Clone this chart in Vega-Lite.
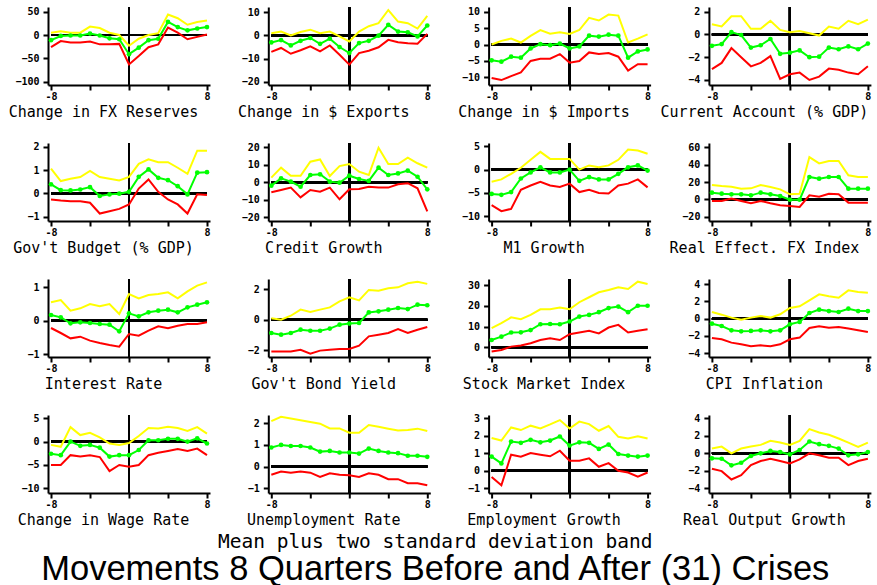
{
"$schema": "https://vega.github.io/schema/vega-lite/v6.json",
"background": "white",
"padding": {"left": 8, "top": 6, "right": 0, "bottom": 0},
"columns": 4,
"spacing": {"row": 58, "column": 58.3},
"bounds": "flush",
"title": {"text": "Mean plus two standard deviation band", "subtitle": "Movements 8 Quarters Before and After (31) Crises", "orient": "bottom", "anchor": "middle", "font": "DejaVu Sans Mono", "fontSize": 19.5, "fontWeight": "normal", "color": "#000", "subtitleFont": "Liberation Sans", "subtitleFontSize": 34.5, "subtitleColor": "#000", "subtitlePadding": 0, "offset": 5, "dx": -5},
"datasets": {
"p1": [{"q":-8,"hi":5,"m":-11,"lo":-26},{"q":-7,"hi":8,"m":-2,"lo":-13},{"q":-6,"hi":5,"m":-1,"lo":-16},{"q":-5,"hi":5,"m":-1,"lo":-16},{"q":-4,"hi":18,"m":3,"lo":-14},{"q":-3,"hi":15,"m":-1,"lo":-20},{"q":-2,"hi":5,"m":-7,"lo":-20},{"q":-1,"hi":0,"m":-9,"lo":-19},{"q":0,"hi":-23,"m":-41,"lo":-63},{"q":1,"hi":-8,"m":-27,"lo":-45},{"q":2,"hi":0,"m":-11,"lo":-26},{"q":3,"hi":4,"m":-8,"lo":-20},{"q":4,"hi":44,"m":28,"lo":16},{"q":5,"hi":36,"m":17,"lo":5},{"q":6,"hi":22,"m":10,"lo":-9},{"q":7,"hi":28,"m":14,"lo":-4},{"q":8,"hi":31,"m":17,"lo":1}],
"p2": [{"q":-8,"hi":1,"m":-3,"lo":-7.1},{"q":-7,"hi":1.7,"m":-2,"lo":-5.4},{"q":-6,"hi":0,"m":-4.3,"lo":-7.9},{"q":-5,"hi":1.5,"m":-2.3,"lo":-6.4},{"q":-4,"hi":2.5,"m":-1.1,"lo":-4.7},{"q":-3,"hi":1,"m":-3.6,"lo":-6.9},{"q":-2,"hi":1.7,"m":-1.4,"lo":-4.3},{"q":-1,"hi":-0.4,"m":-5,"lo":-8.3},{"q":0,"hi":-2.6,"m":-7.6,"lo":-12.6},{"q":1,"hi":1.7,"m":-3.3,"lo":-7.6},{"q":2,"hi":4,"m":-2.3,"lo":-6.6},{"q":3,"hi":5.3,"m":-0.1,"lo":-5.1},{"q":4,"hi":11,"m":4.6,"lo":-1.9},{"q":5,"hi":6,"m":1.7,"lo":-2.9},{"q":6,"hi":5.3,"m":1.4,"lo":-3.4},{"q":7,"hi":3,"m":-0.4,"lo":-3.6},{"q":8,"hi":8.5,"m":4.3,"lo":0.7}],
"p3": [{"q":-8,"hi":0,"m":-4.8,"lo":-10.2},{"q":-7,"hi":1.1,"m":-5.2,"lo":-10.8},{"q":-6,"hi":1.8,"m":-3.7,"lo":-9.6},{"q":-5,"hi":0.6,"m":-4,"lo":-8.5},{"q":-4,"hi":2.6,"m":-1.2,"lo":-5},{"q":-3,"hi":4.4,"m":0.1,"lo":-4.3},{"q":-2,"hi":3.3,"m":-0.2,"lo":-4.3},{"q":-1,"hi":3.7,"m":0.3,"lo":-2.9},{"q":0,"hi":3.2,"m":-1.2,"lo":-5.5},{"q":1,"hi":4.4,"m":-0.6,"lo":-5},{"q":2,"hi":8.1,"m":2.7,"lo":-2.4},{"q":3,"hi":7.3,"m":2.4,"lo":-2.9},{"q":4,"hi":9.1,"m":3,"lo":-2.6},{"q":5,"hi":8.8,"m":2.7,"lo":-3.7},{"q":6,"hi":0.6,"m":-4,"lo":-7.9},{"q":7,"hi":1.8,"m":-2.1,"lo":-6},{"q":8,"hi":3.1,"m":-1.5,"lo":-6}],
"p4": [{"q":-8,"hi":0.9,"m":-1,"lo":-3.05},{"q":-7,"hi":0.7,"m":-0.85,"lo":-2.5},{"q":-6,"hi":1.6,"m":0.2,"lo":-1.2},{"q":-5,"hi":1.6,"m":-0.05,"lo":-2},{"q":-4,"hi":0.5,"m":-1.15,"lo":-2.8},{"q":-3,"hi":0.5,"m":-0.95,"lo":-2.5},{"q":-2,"hi":1.2,"m":-0.4,"lo":-1.9},{"q":-1,"hi":0.4,"m":-1.7,"lo":-3.9},{"q":0,"hi":0.2,"m":-1.6,"lo":-3.5},{"q":1,"hi":0.3,"m":-1.4,"lo":-3.35},{"q":2,"hi":0.1,"m":-2,"lo":-4},{"q":3,"hi":-0.1,"m":-1.95,"lo":-3.7},{"q":4,"hi":0.7,"m":-1.15,"lo":-3},{"q":5,"hi":0.5,"m":-1.3,"lo":-3.1},{"q":6,"hi":1.2,"m":-1.05,"lo":-3.35},{"q":7,"hi":0.9,"m":-1.3,"lo":-3.5},{"q":8,"hi":1.3,"m":-0.8,"lo":-2.8}],
"p5": [{"q":-8,"hi":1.06,"m":0.39,"lo":-0.26},{"q":-7,"hi":0.53,"m":0.14,"lo":-0.3},{"q":-6,"hi":0.63,"m":0.13,"lo":-0.33},{"q":-5,"hi":0.7,"m":0.17,"lo":-0.33},{"q":-4,"hi":0.96,"m":0.27,"lo":-0.4},{"q":-3,"hi":0.7,"m":-0.11,"lo":-0.86},{"q":-2,"hi":0.63,"m":-0.04,"lo":-0.76},{"q":-1,"hi":0.56,"m":-0.01,"lo":-0.66},{"q":0,"hi":0.71,"m":0.07,"lo":-0.47},{"q":1,"hi":1.27,"m":0.71,"lo":0.21},{"q":2,"hi":1.46,"m":1.03,"lo":0.6},{"q":3,"hi":1.34,"m":0.67,"lo":0.07},{"q":4,"hi":1.34,"m":0.57,"lo":-0.26},{"q":5,"hi":1.1,"m":0.31,"lo":-0.47},{"q":6,"hi":0.84,"m":-0.04,"lo":-0.86},{"q":7,"hi":1.83,"m":0.89,"lo":-0.04},{"q":8,"hi":1.83,"m":0.91,"lo":-0.07}],
"p6": [{"q":-8,"hi":2.7,"m":-1.9,"lo":-5.7},{"q":-7,"hi":8.4,"m":2.3,"lo":-4.4},{"q":-6,"hi":3.8,"m":0.4,"lo":-3},{"q":-5,"hi":3.8,"m":-2.5,"lo":-8.6},{"q":-4,"hi":11.8,"m":4.2,"lo":-4.4},{"q":-3,"hi":13.1,"m":4.6,"lo":-5.3},{"q":-2,"hi":3.6,"m":0.4,"lo":-3},{"q":-1,"hi":9.3,"m":-0.2,"lo":-9.7},{"q":0,"hi":10.5,"m":3.8,"lo":-4},{"q":1,"hi":6.1,"m":1.9,"lo":-3.8},{"q":2,"hi":4.2,"m":0.8,"lo":-2.5},{"q":3,"hi":19.8,"m":8.4,"lo":-3},{"q":4,"hi":10.5,"m":4.2,"lo":-3},{"q":5,"hi":10.5,"m":5.1,"lo":-1.1},{"q":6,"hi":14.1,"m":6.7,"lo":-0.5},{"q":7,"hi":10.9,"m":3.2,"lo":-3.4},{"q":8,"hi":8.4,"m":-4,"lo":-16.6}],
"p7": [{"q":-8,"hi":-2.6,"m":-5.2,"lo":-7.6},{"q":-7,"hi":-2.1,"m":-5.4,"lo":-8.9},{"q":-6,"hi":-0.9,"m":-4.8,"lo":-8.4},{"q":-5,"hi":0.4,"m":-1.9,"lo":-4.3},{"q":-4,"hi":2.1,"m":-0.6,"lo":-3.4},{"q":-3,"hi":3.8,"m":0.5,"lo":-2.6},{"q":-2,"hi":2.3,"m":-0.6,"lo":-3.4},{"q":-1,"hi":2.3,"m":-0.6,"lo":-3.7},{"q":0,"hi":2.3,"m":0,"lo":-3},{"q":1,"hi":0,"m":-2.4,"lo":-4.8},{"q":2,"hi":0.9,"m":-1.6,"lo":-4.3},{"q":3,"hi":0.5,"m":-2.1,"lo":-5},{"q":4,"hi":0.9,"m":-2.1,"lo":-5.1},{"q":5,"hi":2.1,"m":-0.9,"lo":-3.4},{"q":6,"hi":4.3,"m":0.5,"lo":-3},{"q":7,"hi":4.1,"m":0.9,"lo":-2.1},{"q":8,"hi":3.4,"m":-0.2,"lo":-3.8}],
"p8": [{"q":-8,"hi":16.5,"m":7.7,"lo":-1.9},{"q":-7,"hi":15.4,"m":6.5,"lo":-1.9},{"q":-6,"hi":14.6,"m":5.8,"lo":0.8},{"q":-5,"hi":12.3,"m":5.8,"lo":-1.9},{"q":-4,"hi":12.7,"m":4.6,"lo":-4.6},{"q":-3,"hi":16.5,"m":7.7,"lo":-1.9},{"q":-2,"hi":14.2,"m":5.8,"lo":-4.6},{"q":-1,"hi":11.5,"m":3.8,"lo":-6.9},{"q":0,"hi":5.8,"m":-0.4,"lo":-7.7},{"q":1,"hi":6.5,"m":-0.4,"lo":-8.8},{"q":2,"hi":48.8,"m":25.8,"lo":4.6},{"q":3,"hi":41.5,"m":23.8,"lo":3},{"q":4,"hi":44.2,"m":25.8,"lo":6.5},{"q":5,"hi":44.2,"m":25.8,"lo":5.8},{"q":6,"hi":27.7,"m":12.3,"lo":-3.8},{"q":7,"hi":25.8,"m":12.3,"lo":-3.8},{"q":8,"hi":25.8,"m":12.3,"lo":-3.8}],
"p9": [{"q":-8,"hi":0.55,"m":0.17,"lo":-0.22},{"q":-7,"hi":0.62,"m":0.1,"lo":-0.37},{"q":-6,"hi":0.3,"m":-0.08,"lo":-0.53},{"q":-5,"hi":0.37,"m":-0.05,"lo":-0.48},{"q":-4,"hi":0.5,"m":-0.07,"lo":-0.6},{"q":-3,"hi":0.43,"m":-0.1,"lo":-0.67},{"q":-2,"hi":0.5,"m":-0.12,"lo":-0.73},{"q":-1,"hi":0.2,"m":-0.32,"lo":-0.78},{"q":0,"hi":0.8,"m":0.22,"lo":-0.4},{"q":1,"hi":0.67,"m":0.13,"lo":-0.45},{"q":2,"hi":0.77,"m":0.25,"lo":-0.3},{"q":3,"hi":0.8,"m":0.3,"lo":-0.17},{"q":4,"hi":0.85,"m":0.33,"lo":-0.23},{"q":5,"hi":0.67,"m":0.25,"lo":-0.15},{"q":6,"hi":0.88,"m":0.4,"lo":-0.1},{"q":7,"hi":1.05,"m":0.48,"lo":-0.1},{"q":8,"hi":1.15,"m":0.55,"lo":-0.05}],
"p10": [{"q":-8,"hi":0.1,"m":-0.88,"lo":-2.09},{"q":-7,"hi":0,"m":-0.99,"lo":-2.09},{"q":-6,"hi":0.26,"m":-0.88,"lo":-2.09},{"q":-5,"hi":0.66,"m":-0.66,"lo":-1.98},{"q":-4,"hi":0.5,"m":-0.73,"lo":-2.24},{"q":-3,"hi":0.66,"m":-0.73,"lo":-2.04},{"q":-2,"hi":0.81,"m":-0.59,"lo":-1.98},{"q":-1,"hi":1.21,"m":-0.33,"lo":-1.93},{"q":0,"hi":1.47,"m":-0.26,"lo":-1.93},{"q":1,"hi":1.27,"m":-0.22,"lo":-1.71},{"q":2,"hi":1.96,"m":0.48,"lo":-1.1},{"q":3,"hi":1.91,"m":0.55,"lo":-0.99},{"q":4,"hi":2.07,"m":0.66,"lo":-0.88},{"q":5,"hi":2.13,"m":0.77,"lo":-0.62},{"q":6,"hi":2.4,"m":0.7,"lo":-0.88},{"q":7,"hi":2.5,"m":0.99,"lo":-0.66},{"q":8,"hi":2.36,"m":0.95,"lo":-0.48}],
"p11": [{"q":-8,"hi":9.2,"m":3.5,"lo":-2.1},{"q":-7,"hi":11.6,"m":5.1,"lo":-1.3},{"q":-6,"hi":14.4,"m":7.1,"lo":0.3},{"q":-5,"hi":13.5,"m":7.2,"lo":0.8},{"q":-4,"hi":15.6,"m":8.3,"lo":1.9},{"q":-3,"hi":18.3,"m":11.1,"lo":3.5},{"q":-2,"hi":18.3,"m":11.2,"lo":4.3},{"q":-1,"hi":19.1,"m":11.1,"lo":3.5},{"q":0,"hi":18.3,"m":12.4,"lo":6.3},{"q":1,"hi":21.7,"m":14.8,"lo":7.1},{"q":2,"hi":24.1,"m":15.6,"lo":7.9},{"q":3,"hi":26.5,"m":16.9,"lo":6.7},{"q":4,"hi":27.6,"m":18.9,"lo":9.5},{"q":5,"hi":28.9,"m":19.6,"lo":10.8},{"q":6,"hi":28.1,"m":16.9,"lo":7.1},{"q":7,"hi":31.6,"m":20,"lo":8},{"q":8,"hi":30.5,"m":20,"lo":8.7}],
"p12": [{"q":-8,"hi":0.77,"m":-0.58,"lo":-2.23},{"q":-7,"hi":0.46,"m":-0.85,"lo":-2.38},{"q":-6,"hi":0.12,"m":-1.35,"lo":-2.77},{"q":-5,"hi":-0.12,"m":-1.46,"lo":-2.96},{"q":-4,"hi":0.12,"m":-1.42,"lo":-3.19},{"q":-3,"hi":0.31,"m":-1.35,"lo":-3.08},{"q":-2,"hi":0.12,"m":-1.46,"lo":-3.19},{"q":-1,"hi":0.5,"m":-1.35,"lo":-2.96},{"q":0,"hi":1.23,"m":-0.65,"lo":-2.38},{"q":1,"hi":1.42,"m":-0.38,"lo":-2.19},{"q":2,"hi":2.12,"m":0.65,"lo":-1.08},{"q":3,"hi":2.81,"m":1.04,"lo":-0.88},{"q":4,"hi":2.58,"m":0.88,"lo":-1.04},{"q":5,"hi":2.42,"m":0.77,"lo":-0.96},{"q":6,"hi":3.27,"m":1.15,"lo":-1.15},{"q":7,"hi":3.08,"m":0.88,"lo":-1.35},{"q":8,"hi":3,"m":0.88,"lo":-1.54}],
"p13": [{"q":-8,"hi":-0.7,"m":-2.6,"lo":-5},{"q":-7,"hi":-1.1,"m":-2.9,"lo":-5},{"q":-6,"hi":3.1,"m":0,"lo":-2.9},{"q":-5,"hi":1.4,"m":-0.9,"lo":-3.2},{"q":-4,"hi":1.9,"m":-0.7,"lo":-2.9},{"q":-3,"hi":0.9,"m":-1.3,"lo":-3.3},{"q":-2,"hi":-0.4,"m":-3.2,"lo":-6.3},{"q":-1,"hi":-0.7,"m":-2.9,"lo":-5},{"q":0,"hi":-0.3,"m":-2.9,"lo":-5.4},{"q":1,"hi":1.2,"m":-1.8,"lo":-5},{"q":2,"hi":2.9,"m":0.3,"lo":-2.9},{"q":3,"hi":2.8,"m":0.3,"lo":-2.4},{"q":4,"hi":3.2,"m":0.6,"lo":-2},{"q":5,"hi":2.9,"m":0.6,"lo":-1.6},{"q":6,"hi":2.3,"m":0,"lo":-2},{"q":7,"hi":3.1,"m":0.7,"lo":-1.5},{"q":8,"hi":1.7,"m":-0.4,"lo":-2.9}],
"p14": [{"q":-8,"hi":2.1,"m":0.88,"lo":-0.38},{"q":-7,"hi":2.3,"m":1.0,"lo":-0.23},{"q":-6,"hi":2.22,"m":0.95,"lo":-0.28},{"q":-5,"hi":2.14,"m":0.95,"lo":-0.23},{"q":-4,"hi":2.06,"m":0.88,"lo":-0.28},{"q":-3,"hi":1.98,"m":0.69,"lo":-0.48},{"q":-2,"hi":1.76,"m":0.72,"lo":-0.31},{"q":-1,"hi":1.76,"m":0.65,"lo":-0.38},{"q":0,"hi":1.56,"m":0.65,"lo":-0.4},{"q":1,"hi":1.56,"m":0.6,"lo":-0.48},{"q":2,"hi":1.92,"m":0.83,"lo":-0.31},{"q":3,"hi":1.84,"m":0.72,"lo":-0.38},{"q":4,"hi":1.75,"m":0.65,"lo":-0.58},{"q":5,"hi":1.67,"m":0.62,"lo":-0.58},{"q":6,"hi":1.69,"m":0.5,"lo":-0.77},{"q":7,"hi":1.75,"m":0.5,"lo":-0.77},{"q":8,"hi":1.64,"m":0.45,"lo":-0.86}],
"p15": [{"q":-8,"hi":1.88,"m":0.81,"lo":-0.35},{"q":-7,"hi":1.73,"m":0.42,"lo":-0.83},{"q":-6,"hi":2.48,"m":1.67,"lo":0.92},{"q":-5,"hi":2.33,"m":1.6,"lo":0.81},{"q":-4,"hi":2.58,"m":1.77,"lo":1.02},{"q":-3,"hi":2.42,"m":1.63,"lo":0.92},{"q":-2,"hi":2.65,"m":1.73,"lo":0.83},{"q":-1,"hi":2.9,"m":1.96,"lo":1.15},{"q":0,"hi":2.42,"m":1.44,"lo":0.58},{"q":1,"hi":2.81,"m":1.63,"lo":0.58},{"q":2,"hi":2.67,"m":1.6,"lo":0.71},{"q":3,"hi":2.29,"m":1.25,"lo":0.23},{"q":4,"hi":2.56,"m":1.5,"lo":0.44},{"q":5,"hi":1.94,"m":0.96,"lo":0},{"q":6,"hi":1.85,"m":0.87,"lo":-0.1},{"q":7,"hi":1.98,"m":0.81,"lo":-0.33},{"q":8,"hi":1.85,"m":0.87,"lo":-0.1}],
"p16": [{"q":-8,"hi":0.54,"m":-0.58,"lo":-1.77},{"q":-7,"hi":0.77,"m":-0.62,"lo":-2.04},{"q":-6,"hi":0,"m":-1.38,"lo":-3},{"q":-5,"hi":0.54,"m":-1.08,"lo":-2.5},{"q":-4,"hi":0.77,"m":-0.31,"lo":-1.35},{"q":-3,"hi":0.96,"m":0,"lo":-0.88},{"q":-2,"hi":1.42,"m":0.27,"lo":-0.62},{"q":-1,"hi":1.23,"m":0.15,"lo":-0.88},{"q":0,"hi":0.96,"m":-0.12,"lo":-1.15},{"q":1,"hi":1.42,"m":0.38,"lo":-0.69},{"q":2,"hi":2.77,"m":1.35,"lo":0},{"q":3,"hi":2.38,"m":1.04,"lo":-0.23},{"q":4,"hi":2.12,"m":0.85,"lo":-0.5},{"q":5,"hi":1.69,"m":0.54,"lo":-0.5},{"q":6,"hi":1.23,"m":-0.23,"lo":-1.35},{"q":7,"hi":0.73,"m":-0.12,"lo":-0.88},{"q":8,"hi":1.23,"m":0.15,"lo":-0.62}]
},
"concat": [
{"data":{"name":"p1"},"title":"Change in FX Reserves","width":162,"height":78,"encoding":{"x":{"field":"q","type":"quantitative","title":null,"scale":{"domain":[-8.31,8.31],"nice":false},"axis":{"values":[-8,-4,0,4,8],"labelExpr":"datum.value == -8 ? '-8' : datum.value == 8 ? '8' : ''"}}},"layer":[{"mark":{"type":"rule","color":"#000","strokeWidth":2},"encoding":{"x":{"datum":0}}},{"mark":{"type":"rule","color":"#000","strokeWidth":2},"encoding":{"x":{"datum":-8},"x2":{"datum":8},"y":{"datum":0}}},{"mark":{"type":"line","color":"#ffff00","strokeWidth":2},"encoding":{"y":{"field":"hi","type":"quantitative","title":null,"scale":{"domain":[-107,60],"nice":false,"zero":false},"axis":{"values":[50,0,-50,-100],"format":"d"}}}},{"mark":{"type":"line","color":"#00ff00","strokeWidth":2,"point":{"filled":true,"size":22,"color":"#00ff00"}},"encoding":{"y":{"field":"m","type":"quantitative","title":null}}},{"mark":{"type":"line","color":"#ff0000","strokeWidth":2},"encoding":{"y":{"field":"lo","type":"quantitative","title":null}}}]},
{"data":{"name":"p2"},"title":"Change in $ Exports","width":162,"height":78,"encoding":{"x":{"field":"q","type":"quantitative","title":null,"scale":{"domain":[-8.31,8.31],"nice":false},"axis":{"values":[-8,-4,0,4,8],"labelExpr":"datum.value == -8 ? '-8' : datum.value == 8 ? '8' : ''"}}},"layer":[{"mark":{"type":"rule","color":"#000","strokeWidth":2},"encoding":{"x":{"datum":0}}},{"mark":{"type":"rule","color":"#000","strokeWidth":2},"encoding":{"x":{"datum":-8},"x2":{"datum":8},"y":{"datum":0}}},{"mark":{"type":"line","color":"#ffff00","strokeWidth":2},"encoding":{"y":{"field":"hi","type":"quantitative","title":null,"scale":{"domain":[-21.4,12.3],"nice":false,"zero":false},"axis":{"values":[10,0,-10,-20],"format":"d"}}}},{"mark":{"type":"line","color":"#00ff00","strokeWidth":2,"point":{"filled":true,"size":22,"color":"#00ff00"}},"encoding":{"y":{"field":"m","type":"quantitative","title":null}}},{"mark":{"type":"line","color":"#ff0000","strokeWidth":2},"encoding":{"y":{"field":"lo","type":"quantitative","title":null}}}]},
{"data":{"name":"p3"},"title":"Change in $ Imports","width":162,"height":78,"encoding":{"x":{"field":"q","type":"quantitative","title":null,"scale":{"domain":[-8.31,8.31],"nice":false},"axis":{"values":[-8,-4,0,4,8],"labelExpr":"datum.value == -8 ? '-8' : datum.value == 8 ? '8' : ''"}}},"layer":[{"mark":{"type":"rule","color":"#000","strokeWidth":2},"encoding":{"x":{"datum":0}}},{"mark":{"type":"rule","color":"#000","strokeWidth":2},"encoding":{"x":{"datum":-8},"x2":{"datum":8},"y":{"datum":0}}},{"mark":{"type":"line","color":"#ffff00","strokeWidth":2},"encoding":{"y":{"field":"hi","type":"quantitative","title":null,"scale":{"domain":[-12.3,11.4],"nice":false,"zero":false},"axis":{"values":[10,5,0,-5,-10],"format":"d"}}}},{"mark":{"type":"line","color":"#00ff00","strokeWidth":2,"point":{"filled":true,"size":22,"color":"#00ff00"}},"encoding":{"y":{"field":"m","type":"quantitative","title":null}}},{"mark":{"type":"line","color":"#ff0000","strokeWidth":2},"encoding":{"y":{"field":"lo","type":"quantitative","title":null}}}]},
{"data":{"name":"p4"},"title":"Current Account (% GDP)","width":162,"height":78,"encoding":{"x":{"field":"q","type":"quantitative","title":null,"scale":{"domain":[-8.31,8.31],"nice":false},"axis":{"values":[-8,-4,0,4,8],"labelExpr":"datum.value == -8 ? '-8' : datum.value == 8 ? '8' : ''"}}},"layer":[{"mark":{"type":"rule","color":"#000","strokeWidth":2},"encoding":{"x":{"datum":0}}},{"mark":{"type":"rule","color":"#000","strokeWidth":2},"encoding":{"x":{"datum":-8},"x2":{"datum":8},"y":{"datum":0}}},{"mark":{"type":"line","color":"#ffff00","strokeWidth":2},"encoding":{"y":{"field":"hi","type":"quantitative","title":null,"scale":{"domain":[-4.44,2.41],"nice":false,"zero":false},"axis":{"values":[2,0,-2,-4],"format":"d"}}}},{"mark":{"type":"line","color":"#00ff00","strokeWidth":2,"point":{"filled":true,"size":22,"color":"#00ff00"}},"encoding":{"y":{"field":"m","type":"quantitative","title":null}}},{"mark":{"type":"line","color":"#ff0000","strokeWidth":2},"encoding":{"y":{"field":"lo","type":"quantitative","title":null}}}]},
{"data":{"name":"p5"},"title":"Gov't Budget (% GDP)","width":162,"height":78,"encoding":{"x":{"field":"q","type":"quantitative","title":null,"scale":{"domain":[-8.31,8.31],"nice":false},"axis":{"values":[-8,-4,0,4,8],"labelExpr":"datum.value == -8 ? '-8' : datum.value == 8 ? '8' : ''"}}},"layer":[{"mark":{"type":"rule","color":"#000","strokeWidth":2},"encoding":{"x":{"datum":0}}},{"mark":{"type":"rule","color":"#000","strokeWidth":2},"encoding":{"x":{"datum":-8},"x2":{"datum":8},"y":{"datum":0}}},{"mark":{"type":"line","color":"#ffff00","strokeWidth":2},"encoding":{"y":{"field":"hi","type":"quantitative","title":null,"scale":{"domain":[-1.18,2.16],"nice":false,"zero":false},"axis":{"values":[2,1,0,-1],"format":"d"}}}},{"mark":{"type":"line","color":"#00ff00","strokeWidth":2,"point":{"filled":true,"size":22,"color":"#00ff00"}},"encoding":{"y":{"field":"m","type":"quantitative","title":null}}},{"mark":{"type":"line","color":"#ff0000","strokeWidth":2},"encoding":{"y":{"field":"lo","type":"quantitative","title":null}}}]},
{"data":{"name":"p6"},"title":"Credit Growth","width":162,"height":78,"encoding":{"x":{"field":"q","type":"quantitative","title":null,"scale":{"domain":[-8.31,8.31],"nice":false},"axis":{"values":[-8,-4,0,4,8],"labelExpr":"datum.value == -8 ? '-8' : datum.value == 8 ? '8' : ''"}}},"layer":[{"mark":{"type":"rule","color":"#000","strokeWidth":2},"encoding":{"x":{"datum":0}}},{"mark":{"type":"rule","color":"#000","strokeWidth":2},"encoding":{"x":{"datum":-8},"x2":{"datum":8},"y":{"datum":0}}},{"mark":{"type":"line","color":"#ffff00","strokeWidth":2},"encoding":{"y":{"field":"hi","type":"quantitative","title":null,"scale":{"domain":[-22.1,22.5],"nice":false,"zero":false},"axis":{"values":[20,10,0,-10,-20],"format":"d"}}}},{"mark":{"type":"line","color":"#00ff00","strokeWidth":2,"point":{"filled":true,"size":22,"color":"#00ff00"}},"encoding":{"y":{"field":"m","type":"quantitative","title":null}}},{"mark":{"type":"line","color":"#ff0000","strokeWidth":2},"encoding":{"y":{"field":"lo","type":"quantitative","title":null}}}]},
{"data":{"name":"p7"},"title":"M1 Growth","width":162,"height":78,"encoding":{"x":{"field":"q","type":"quantitative","title":null,"scale":{"domain":[-8.31,8.31],"nice":false},"axis":{"values":[-8,-4,0,4,8],"labelExpr":"datum.value == -8 ? '-8' : datum.value == 8 ? '8' : ''"}}},"layer":[{"mark":{"type":"rule","color":"#000","strokeWidth":2},"encoding":{"x":{"datum":0}}},{"mark":{"type":"rule","color":"#000","strokeWidth":2},"encoding":{"x":{"datum":-8},"x2":{"datum":8},"y":{"datum":0}}},{"mark":{"type":"line","color":"#ffff00","strokeWidth":2},"encoding":{"y":{"field":"hi","type":"quantitative","title":null,"scale":{"domain":[-11,5.7],"nice":false,"zero":false},"axis":{"values":[5,0,-5,-10],"format":"d"}}}},{"mark":{"type":"line","color":"#00ff00","strokeWidth":2,"point":{"filled":true,"size":22,"color":"#00ff00"}},"encoding":{"y":{"field":"m","type":"quantitative","title":null}}},{"mark":{"type":"line","color":"#ff0000","strokeWidth":2},"encoding":{"y":{"field":"lo","type":"quantitative","title":null}}}]},
{"data":{"name":"p8"},"title":"Real Effect. FX Index","width":162,"height":78,"encoding":{"x":{"field":"q","type":"quantitative","title":null,"scale":{"domain":[-8.31,8.31],"nice":false},"axis":{"values":[-8,-4,0,4,8],"labelExpr":"datum.value == -8 ? '-8' : datum.value == 8 ? '8' : ''"}}},"layer":[{"mark":{"type":"rule","color":"#000","strokeWidth":2},"encoding":{"x":{"datum":0}}},{"mark":{"type":"rule","color":"#000","strokeWidth":2},"encoding":{"x":{"datum":-8},"x2":{"datum":8},"y":{"datum":0}}},{"mark":{"type":"line","color":"#ffff00","strokeWidth":2},"encoding":{"y":{"field":"hi","type":"quantitative","title":null,"scale":{"domain":[-25,65],"nice":false,"zero":false},"axis":{"values":[60,40,20,0,-20],"format":"d"}}}},{"mark":{"type":"line","color":"#00ff00","strokeWidth":2,"point":{"filled":true,"size":22,"color":"#00ff00"}},"encoding":{"y":{"field":"m","type":"quantitative","title":null}}},{"mark":{"type":"line","color":"#ff0000","strokeWidth":2},"encoding":{"y":{"field":"lo","type":"quantitative","title":null}}}]},
{"data":{"name":"p9"},"title":"Interest Rate","width":162,"height":78,"encoding":{"x":{"field":"q","type":"quantitative","title":null,"scale":{"domain":[-8.31,8.31],"nice":false},"axis":{"values":[-8,-4,0,4,8],"labelExpr":"datum.value == -8 ? '-8' : datum.value == 8 ? '8' : ''"}}},"layer":[{"mark":{"type":"rule","color":"#000","strokeWidth":2},"encoding":{"x":{"datum":0}}},{"mark":{"type":"rule","color":"#000","strokeWidth":2},"encoding":{"x":{"datum":-8},"x2":{"datum":8},"y":{"datum":0}}},{"mark":{"type":"line","color":"#ffff00","strokeWidth":2},"encoding":{"y":{"field":"hi","type":"quantitative","title":null,"scale":{"domain":[-1.09,1.25],"nice":false,"zero":false},"axis":{"values":[1,0,-1],"format":"d"}}}},{"mark":{"type":"line","color":"#00ff00","strokeWidth":2,"point":{"filled":true,"size":22,"color":"#00ff00"}},"encoding":{"y":{"field":"m","type":"quantitative","title":null}}},{"mark":{"type":"line","color":"#ff0000","strokeWidth":2},"encoding":{"y":{"field":"lo","type":"quantitative","title":null}}}]},
{"data":{"name":"p10"},"title":"Gov't Bond Yield","width":162,"height":78,"encoding":{"x":{"field":"q","type":"quantitative","title":null,"scale":{"domain":[-8.31,8.31],"nice":false},"axis":{"values":[-8,-4,0,4,8],"labelExpr":"datum.value == -8 ? '-8' : datum.value == 8 ? '8' : ''"}}},"layer":[{"mark":{"type":"rule","color":"#000","strokeWidth":2},"encoding":{"x":{"datum":0}}},{"mark":{"type":"rule","color":"#000","strokeWidth":2},"encoding":{"x":{"datum":-8},"x2":{"datum":8},"y":{"datum":0}}},{"mark":{"type":"line","color":"#ffff00","strokeWidth":2},"encoding":{"y":{"field":"hi","type":"quantitative","title":null,"scale":{"domain":[-2.46,2.68],"nice":false,"zero":false},"axis":{"values":[2,0,-2],"format":"d"}}}},{"mark":{"type":"line","color":"#00ff00","strokeWidth":2,"point":{"filled":true,"size":22,"color":"#00ff00"}},"encoding":{"y":{"field":"m","type":"quantitative","title":null}}},{"mark":{"type":"line","color":"#ff0000","strokeWidth":2},"encoding":{"y":{"field":"lo","type":"quantitative","title":null}}}]},
{"data":{"name":"p11"},"title":"Stock Market Index","width":162,"height":78,"encoding":{"x":{"field":"q","type":"quantitative","title":null,"scale":{"domain":[-8.31,8.31],"nice":false},"axis":{"values":[-8,-4,0,4,8],"labelExpr":"datum.value == -8 ? '-8' : datum.value == 8 ? '8' : ''"}}},"layer":[{"mark":{"type":"rule","color":"#000","strokeWidth":2},"encoding":{"x":{"datum":0}}},{"mark":{"type":"rule","color":"#000","strokeWidth":2},"encoding":{"x":{"datum":-8},"x2":{"datum":8},"y":{"datum":0}}},{"mark":{"type":"line","color":"#ffff00","strokeWidth":2},"encoding":{"y":{"field":"hi","type":"quantitative","title":null,"scale":{"domain":[-4.7,32.9],"nice":false,"zero":false},"axis":{"values":[30,20,10,0],"format":"d"}}}},{"mark":{"type":"line","color":"#00ff00","strokeWidth":2,"point":{"filled":true,"size":22,"color":"#00ff00"}},"encoding":{"y":{"field":"m","type":"quantitative","title":null}}},{"mark":{"type":"line","color":"#ff0000","strokeWidth":2},"encoding":{"y":{"field":"lo","type":"quantitative","title":null}}}]},
{"data":{"name":"p12"},"title":"CPI Inflation","width":162,"height":78,"encoding":{"x":{"field":"q","type":"quantitative","title":null,"scale":{"domain":[-8.31,8.31],"nice":false},"axis":{"values":[-8,-4,0,4,8],"labelExpr":"datum.value == -8 ? '-8' : datum.value == 8 ? '8' : ''"}}},"layer":[{"mark":{"type":"rule","color":"#000","strokeWidth":2},"encoding":{"x":{"datum":0}}},{"mark":{"type":"rule","color":"#000","strokeWidth":2},"encoding":{"x":{"datum":-8},"x2":{"datum":8},"y":{"datum":0}}},{"mark":{"type":"line","color":"#ffff00","strokeWidth":2},"encoding":{"y":{"field":"hi","type":"quantitative","title":null,"scale":{"domain":[-4.43,4.58],"nice":false,"zero":false},"axis":{"values":[4,2,0,-2,-4],"format":"d"}}}},{"mark":{"type":"line","color":"#00ff00","strokeWidth":2,"point":{"filled":true,"size":22,"color":"#00ff00"}},"encoding":{"y":{"field":"m","type":"quantitative","title":null}}},{"mark":{"type":"line","color":"#ff0000","strokeWidth":2},"encoding":{"y":{"field":"lo","type":"quantitative","title":null}}}]},
{"data":{"name":"p13"},"title":"Change in Wage Rate","width":162,"height":78,"encoding":{"x":{"field":"q","type":"quantitative","title":null,"scale":{"domain":[-8.31,8.31],"nice":false},"axis":{"values":[-8,-4,0,4,8],"labelExpr":"datum.value == -8 ? '-8' : datum.value == 8 ? '8' : ''"}}},"layer":[{"mark":{"type":"rule","color":"#000","strokeWidth":2},"encoding":{"x":{"datum":0}}},{"mark":{"type":"rule","color":"#000","strokeWidth":2},"encoding":{"x":{"datum":-8},"x2":{"datum":8},"y":{"datum":0}}},{"mark":{"type":"line","color":"#ffff00","strokeWidth":2},"encoding":{"y":{"field":"hi","type":"quantitative","title":null,"scale":{"domain":[-11,5.7],"nice":false,"zero":false},"axis":{"values":[5,0,-5,-10],"format":"d"}}}},{"mark":{"type":"line","color":"#00ff00","strokeWidth":2,"point":{"filled":true,"size":22,"color":"#00ff00"}},"encoding":{"y":{"field":"m","type":"quantitative","title":null}}},{"mark":{"type":"line","color":"#ff0000","strokeWidth":2},"encoding":{"y":{"field":"lo","type":"quantitative","title":null}}}]},
{"data":{"name":"p14"},"title":"Unemployment Rate","width":162,"height":78,"encoding":{"x":{"field":"q","type":"quantitative","title":null,"scale":{"domain":[-8.31,8.31],"nice":false},"axis":{"values":[-8,-4,0,4,8],"labelExpr":"datum.value == -8 ? '-8' : datum.value == 8 ? '8' : ''"}}},"layer":[{"mark":{"type":"rule","color":"#000","strokeWidth":2},"encoding":{"x":{"datum":0}}},{"mark":{"type":"rule","color":"#000","strokeWidth":2},"encoding":{"x":{"datum":-8},"x2":{"datum":8},"y":{"datum":0}}},{"mark":{"type":"line","color":"#ffff00","strokeWidth":2},"encoding":{"y":{"field":"hi","type":"quantitative","title":null,"scale":{"domain":[-1.22,2.38],"nice":false,"zero":false},"axis":{"values":[2,1,0,-1],"format":"d"}}}},{"mark":{"type":"line","color":"#00ff00","strokeWidth":2,"point":{"filled":true,"size":22,"color":"#00ff00"}},"encoding":{"y":{"field":"m","type":"quantitative","title":null}}},{"mark":{"type":"line","color":"#ff0000","strokeWidth":2},"encoding":{"y":{"field":"lo","type":"quantitative","title":null}}}]},
{"data":{"name":"p15"},"title":"Employment Growth","width":162,"height":78,"encoding":{"x":{"field":"q","type":"quantitative","title":null,"scale":{"domain":[-8.31,8.31],"nice":false},"axis":{"values":[-8,-4,0,4,8],"labelExpr":"datum.value == -8 ? '-8' : datum.value == 8 ? '8' : ''"}}},"layer":[{"mark":{"type":"rule","color":"#000","strokeWidth":2},"encoding":{"x":{"datum":0}}},{"mark":{"type":"rule","color":"#000","strokeWidth":2},"encoding":{"x":{"datum":-8},"x2":{"datum":8},"y":{"datum":0}}},{"mark":{"type":"line","color":"#ffff00","strokeWidth":2},"encoding":{"y":{"field":"hi","type":"quantitative","title":null,"scale":{"domain":[-1.27,3.19],"nice":false,"zero":false},"axis":{"values":[3,2,1,0,-1],"format":"d"}}}},{"mark":{"type":"line","color":"#00ff00","strokeWidth":2,"point":{"filled":true,"size":22,"color":"#00ff00"}},"encoding":{"y":{"field":"m","type":"quantitative","title":null}}},{"mark":{"type":"line","color":"#ff0000","strokeWidth":2},"encoding":{"y":{"field":"lo","type":"quantitative","title":null}}}]},
{"data":{"name":"p16"},"title":"Real Output Growth","width":162,"height":78,"encoding":{"x":{"field":"q","type":"quantitative","title":null,"scale":{"domain":[-8.31,8.31],"nice":false},"axis":{"values":[-8,-4,0,4,8],"labelExpr":"datum.value == -8 ? '-8' : datum.value == 8 ? '8' : ''"}}},"layer":[{"mark":{"type":"rule","color":"#000","strokeWidth":2},"encoding":{"x":{"datum":0}}},{"mark":{"type":"rule","color":"#000","strokeWidth":2},"encoding":{"x":{"datum":-8},"x2":{"datum":8},"y":{"datum":0}}},{"mark":{"type":"line","color":"#ffff00","strokeWidth":2},"encoding":{"y":{"field":"hi","type":"quantitative","title":null,"scale":{"domain":[-4.54,4.38],"nice":false,"zero":false},"axis":{"values":[4,2,0,-2,-4],"format":"d"}}}},{"mark":{"type":"line","color":"#00ff00","strokeWidth":2,"point":{"filled":true,"size":22,"color":"#00ff00"}},"encoding":{"y":{"field":"m","type":"quantitative","title":null}}},{"mark":{"type":"line","color":"#ff0000","strokeWidth":2},"encoding":{"y":{"field":"lo","type":"quantitative","title":null}}}]}
],
"config": {
"view": {"stroke": null},
"axis": {"grid": false, "domainColor": "#000", "domainWidth": 2, "tickColor": "#000", "tickWidth": 2, "tickSize": 5, "tickCount": 20, "labelFont": "DejaVu Sans Mono", "labelFontSize": 10, "labelFontWeight": "bold", "labelColor": "#000", "labelPadding": 4, "labelOverlap": false, "labelFlush": false},
"axisX": {"labelPadding": 1},
"title": {"orient": "bottom", "anchor": "middle", "font": "DejaVu Sans Mono", "fontSize": 15, "fontWeight": "normal", "color": "#000", "dx": -25.5, "offset": 4}
}
}
